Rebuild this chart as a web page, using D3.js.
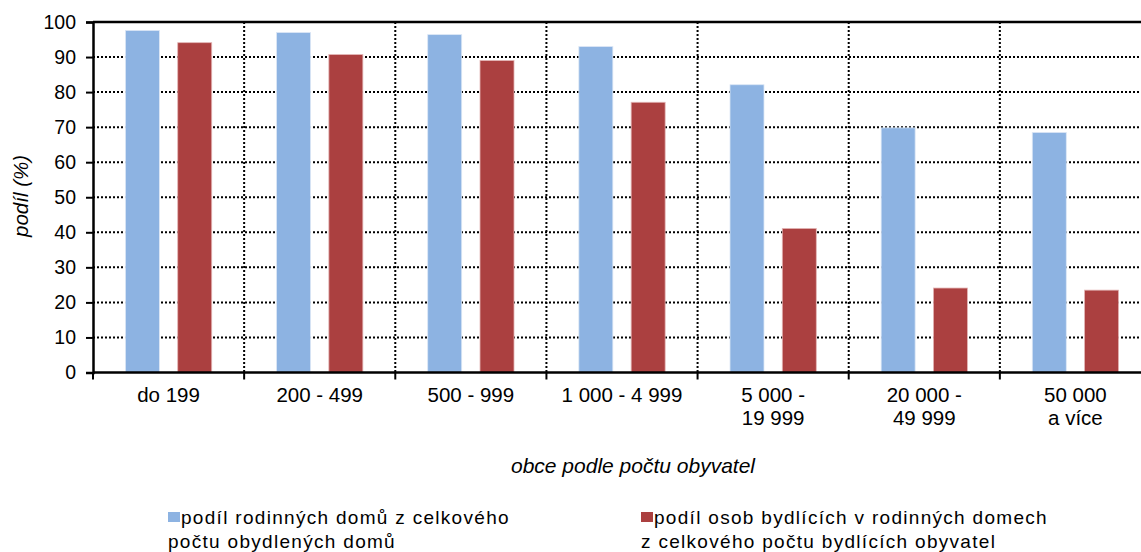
<!DOCTYPE html>
<html>
<head>
<meta charset="utf-8">
<script src="https://cdn.jsdelivr.net/npm/d3@7"></script>
<style>
  html, body { margin: 0; padding: 0; background: #fff; }
  svg { display: block; font-family: "Liberation Sans", Arial, sans-serif; }
</style>
</head>
<body>
<svg id="chart" width="1141" height="552"></svg>
<script>
// Municipality size groups (two-line labels split by "|")
const categories = ["do 199", "200 - 499", "500 - 999", "1 000 - 4 999", "5 000 -|19 999", "20 000 -|49 999", "50 000|a více"];
// Share of family houses among all occupied houses (%)
const houseShare = [97.6, 97.0, 96.4, 93.0, 82.1, 69.8, 68.5];
// Share of persons living in family houses among all residents (%)
const personShare = [94.1, 90.7, 89.0, 77.1, 41.1, 24.1, 23.5];
const yTicks = [0, 10, 20, 30, 40, 50, 60, 70, 80, 90, 100];
const seriesNames = [
  ["podíl rodinných domů z celkového", "počtu obydlených domů"],
  ["podíl osob bydlících v rodinných domech", "z celkového počtu bydlících obyvatel"]
];
const colors = ["#8DB3E2", "#AB4040"];

const svg = d3.select("#chart");
const plot = { left: 93, right: 1151, top: 22, bottom: 372.5 };

const x = d3.scaleBand().domain(d3.range(categories.length)).range([plot.left, plot.right]).padding(0);
const inner = d3.scaleBand().domain([0, 1]).range([0, x.bandwidth()]).paddingInner(0.35).paddingOuter(0.62);
const y = d3.scaleLinear().domain([0, 100]).range([plot.bottom, plot.top]);

// dotted horizontal gridlines
svg.append("g").selectAll("line").data(yTicks.filter(d => d > 0 && d < 100)).join("line")
  .attr("x1", plot.left).attr("x2", plot.right)
  .attr("y1", d => y(d)).attr("y2", d => y(d))
  .attr("stroke", "#000").attr("stroke-width", 2).attr("stroke-dasharray", "2,2");

// dotted vertical gridlines at category boundaries
svg.append("g").selectAll("line").data(d3.range(1, categories.length)).join("line")
  .attr("x1", i => x(i)).attr("x2", i => x(i))
  .attr("y1", plot.top).attr("y2", plot.bottom)
  .attr("stroke", "#000").attr("stroke-width", 2).attr("stroke-dasharray", "2,2");

// top border
svg.append("line").attr("x1", plot.left).attr("x2", plot.right)
  .attr("y1", y(100)).attr("y2", y(100)).attr("stroke", "#000").attr("stroke-width", 2.5);

// bars
const series = [houseShare, personShare];
series.forEach((vals, s) => {
  svg.append("g").selectAll("rect").data(vals).join("rect")
    .attr("x", (d, i) => x(i) + inner(s))
    .attr("width", inner.bandwidth())
    .attr("y", d => y(d))
    .attr("height", d => y(0) - y(d))
    .attr("fill", colors[s])
    .attr("stroke", s === 0 ? "#DCE7F5" : "#E3B5B5")
    .attr("stroke-width", 0.8);
});

// y axis
const yAxis = svg.append("g").attr("transform", `translate(${plot.left},0)`)
  .call(d3.axisLeft(y).tickValues(yTicks).tickSize(7).tickPadding(10));
yAxis.select(".domain").attr("stroke-width", 2.5);
yAxis.selectAll(".tick line").attr("stroke-width", 2);
yAxis.selectAll("text").attr("font-size", 19.5).attr("fill", "#000")
  .attr("font-family", "'Liberation Sans', Arial, sans-serif");

// x axis with ticks at category boundaries
const xAxis = svg.append("g").attr("transform", `translate(0,${plot.bottom})`);
xAxis.append("line").attr("x1", plot.left).attr("x2", plot.right).attr("stroke", "#000").attr("stroke-width", 2.5);
xAxis.selectAll("line.tk").data(d3.range(0, categories.length + 1)).join("line").attr("class", "tk")
  .attr("x1", i => plot.left + i * x.bandwidth()).attr("x2", i => plot.left + i * x.bandwidth())
  .attr("y1", 0).attr("y2", 7).attr("stroke", "#000").attr("stroke-width", 2);

const labels = xAxis.selectAll("text.cat").data(categories).join("text").attr("class", "cat")
  .attr("x", (d, i) => x(i) + x.bandwidth() / 2)
  .attr("text-anchor", "middle").attr("font-size", 20.5).attr("fill", "#000");
labels.each(function(d) {
  const parts = d.split("|");
  d3.select(this).selectAll("tspan").data(parts).join("tspan")
    .attr("x", d3.select(this).attr("x"))
    .attr("y", (p, k) => 29 + k * 23)
    .text(p => p);
});

// axis titles
svg.append("text").attr("transform", "translate(28,196) rotate(-90)")
  .attr("text-anchor", "middle").attr("font-size", 20.5).attr("font-style", "italic").text("podíl (%)");
svg.append("text").attr("x", 633).attr("y", 473)
  .attr("text-anchor", "middle").attr("font-size", 21).attr("font-style", "italic").text("obce podle počtu obyvatel");

// legend
const legendX = [168, 641];
seriesNames.forEach((lines, s) => {
  const g = svg.append("g").attr("transform", `translate(${legendX[s]},0)`);
  g.append("rect").attr("x", 0).attr("y", 512).attr("width", 12).attr("height", 10).attr("fill", colors[s]);
  lines.forEach((t, k) => {
    g.append("text").attr("x", k === 0 ? 13 : 0).attr("y", 524 + k * 24)
      .attr("font-size", 19).attr("letter-spacing", 1.3).attr("fill", "#000").text(t);
  });
});
</script>
</body>
</html>
